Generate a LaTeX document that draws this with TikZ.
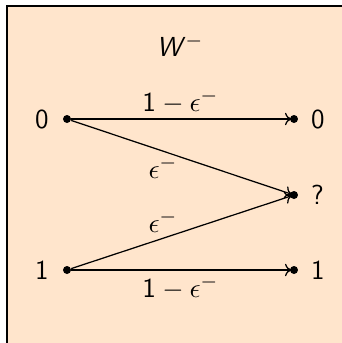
\documentclass[tikz,border=0pt]{standalone}
\usepackage{amsmath}
\renewcommand{\familydefault}{\sfdefault}
\usetikzlibrary{arrows.meta}
\begin{document}
\begin{tikzpicture}[x=0.4pt, y=-0.4pt, font=\fontsize{11}{13}\selectfont]
% Erasure channel W^- drawn on a pixel grid
\providecommand{\chanFill}{orange!20}
\providecommand{\chanFrame}{black}
\tikzset{
  dotnode/.style={circle, fill=black, inner sep=0pt, minimum size=3.2pt},
  chanarrow/.style={-{To[length=2.6pt, width=5pt]}, line width=0.5pt, shorten >=-0.8pt},
  problabel/.style={inner sep=2pt}
}
\useasboundingbox (0,0) rectangle (342,343);
\clip (0,0) rectangle (342,343);
% Frame of the block, cut at the right and bottom
\path[fill=\chanFill, draw=\chanFrame, line width=0.9pt] (7,6) rectangle (360,360);
% Title
\node (title) at (180,45) {\textit{W}$^{-}$};
% Inputs
\node[dotnode, label={[label distance=2pt]left:0}] (in0) at (67,119) {};
\node[dotnode, label={[label distance=2pt]left:1}] (in1) at (67,270) {};
% Outputs
\node[dotnode, label={[label distance=1.5pt]right:0}] (out0) at (294,119) {};
\node[dotnode, label={[label distance=1.5pt]right:?}] (outq) at (294,195) {};
\node[dotnode, label={[label distance=1.5pt]right:1}] (out1) at (294,270) {};
% Transitions
\draw[chanarrow] (in0) -- node[problabel, above] {$\mathsf{1}-\epsilon^{-}$} (out0);
\draw[chanarrow] (in0) -- node[problabel, below, pos=0.42] {$\epsilon^{-}$} (outq);
\draw[chanarrow] (in1) -- node[problabel, above, pos=0.42] {$\epsilon^{-}$} (outq);
\draw[chanarrow] (in1) -- node[problabel, below] {$\mathsf{1}-\epsilon^{-}$} (out1);
\end{tikzpicture}
\end{document}
